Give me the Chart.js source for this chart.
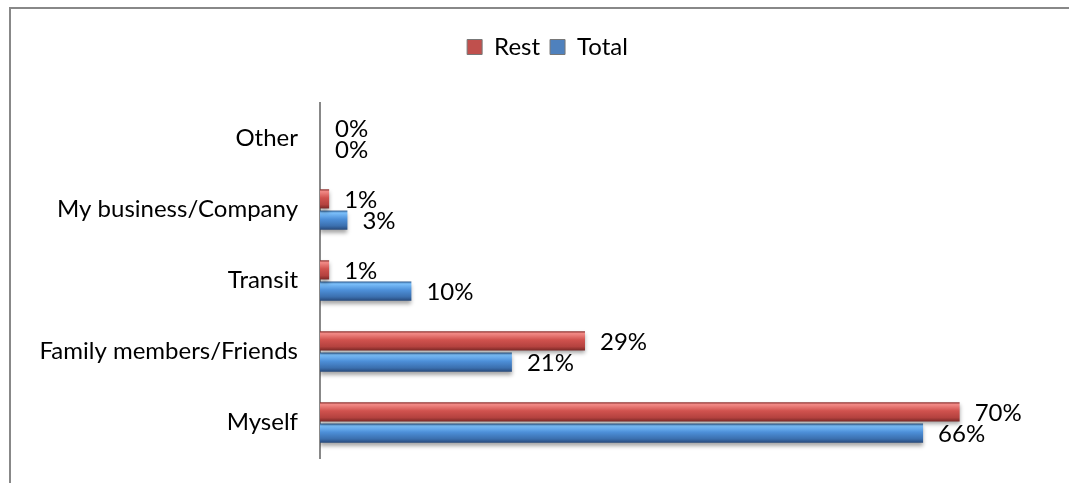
<!DOCTYPE html>
<html>
<head>
<meta charset="utf-8">
<script src="https://cdn.jsdelivr.net/npm/chart.js@4"></script>
<style>
html, body { margin:0; padding:0; background:#fff; overflow:hidden; }
#frame { position:absolute; left:9px; top:7px; width:1200px; height:600px; border:2px solid #888; box-sizing:border-box; }
#wrap { position:absolute; left:0; top:0; width:1069px; height:483px; }
</style>
</head>
<body>
<div id="frame"></div>
<div id="wrap"><canvas id="chart" width="1069" height="483"></canvas></div>
<script>
let categories = ['Other', 'My business/Company', 'Transit', 'Family members/Friends', 'Myself'];
let restValues = [0, 1, 1, 29, 70];
let totalValues = [0, 3, 10, 21, 66];
let seriesNames = ['Rest', 'Total'];
let baseColors = ['#c0504d', '#4f81bd'];

/* gradient stops for the shiny bars */
let shades = [
['#8a2f2d', '#f28a86', '#d0524e', '#b4423f', '#7a2826'],
['#2d5a8e', '#7cc0fb', '#4d8fd8', '#3b6fae', '#27497a']
];

let FONT = 'Lato, "Open Sans", sans-serif';

/* BAR LOOK */
let shinyBars = {
id:'shinyBars',
afterLayout(chart){
// legend sits a bit right of the canvas middle in the original
chart.legend.left += 22;
chart.legend.right += 22;
},
beforeDatasetsDraw(chart){
let ctx = chart.ctx;
chart.data.datasets.forEach(function(ds, i){
let meta = chart.getDatasetMeta(i);
meta.data.forEach(function(bar){
let h = bar.height;
let g = ctx.createLinearGradient(0, bar.y - h/2, 0, bar.y + h/2);
let s = shades[i];
g.addColorStop(0, s[0]);
g.addColorStop(0.12, s[1]);
g.addColorStop(0.45, s[2]);
g.addColorStop(0.8, s[3]);
g.addColorStop(1, s[4]);
bar.options.backgroundColor = g;
});
});
ctx.save();
ctx.shadowColor = 'rgba(0,0,0,0.35)';
ctx.shadowBlur = 4;
ctx.shadowOffsetY = 3;
},
afterDatasetsDraw(chart){
let ctx = chart.ctx;
ctx.restore();
/* value labels */
ctx.save();
ctx.font = '24px ' + FONT;
ctx.fillStyle = '#000';
ctx.textBaseline = 'middle';
ctx.textAlign = 'left';
chart.data.datasets.forEach(function(ds, i){
chart.getDatasetMeta(i).data.forEach(function(bar, j){
ctx.fillText(ds.data[j] + '%', bar.x + 15, bar.y + 1);
});
});
ctx.restore();
}
};

new Chart(document.getElementById('chart'), {
type:'bar',
data:{
labels:categories,
datasets:[
{ label:seriesNames[0], data:restValues, backgroundColor:(c) => baseColors[0], borderWidth:0 },
{ label:seriesNames[1], data:totalValues, backgroundColor:(c) => baseColors[1], borderWidth:0 }
]
},
options:{
indexAxis:'y',
responsive:false,
animation:false,
devicePixelRatio:1,
categoryPercentage:0.6,
barPercentage:0.9,
layout:{ padding:{ left:0, right:18, top:25, bottom:25 } },
plugins:{
legend:{
position:'top',
labels:{
font:{ family:FONT, size:24 }, color:'#000', boxWidth:15, boxHeight:15, padding:10,
generateLabels(chart){
return chart.data.datasets.map(function(ds, i){
return { text:ds.label, fillStyle:baseColors[i], strokeStyle:'#777', lineWidth:1, datasetIndex:i, fontColor:'#000' };
});
}
}
},
tooltip:{ enabled:false }
},
scales:{
x:{
position:'top',
min:0,
max:80,
grid:{ display:false },
border:{ display:false },
ticks:{ display:false },
afterFit(s){ s.height = 34; }
},
y:{
grid:{ display:false, drawTicks:false },
border:{ display:true, color:'#888', width:2 },
ticks:{ font:{ family:FONT, size:24 }, color:'#000', padding:22 },
afterFit(s){ s.width = 320; s.paddingTop = 0; s.paddingBottom = 0; }
}
}
},
plugins:[shinyBars]
});
</script>
</body>
</html>
